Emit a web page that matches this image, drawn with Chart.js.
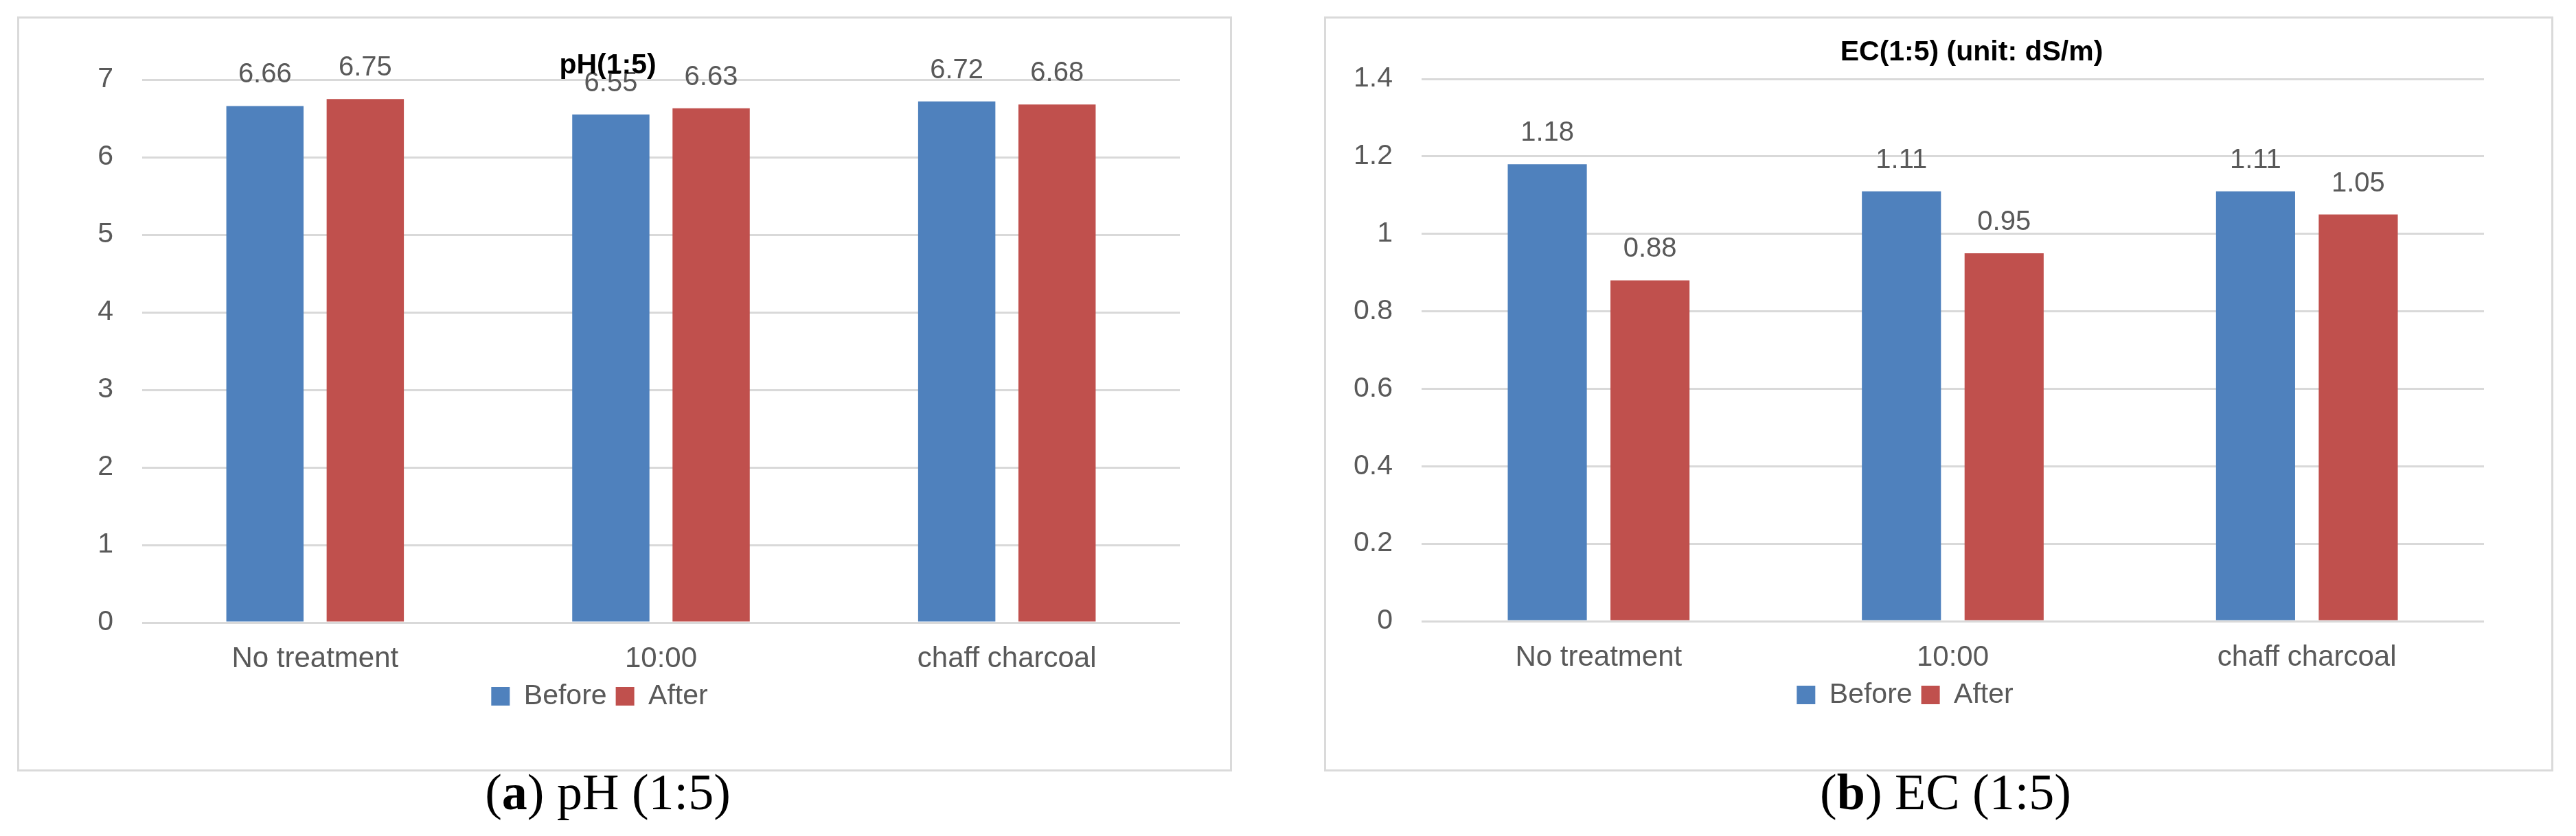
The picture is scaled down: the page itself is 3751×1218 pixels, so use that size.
<!DOCTYPE html>
<html>
<head>
<meta charset="utf-8">
<script src="https://cdn.jsdelivr.net/npm/chart.js@4.4.1/dist/chart.umd.min.js"></script>
<style>
  body { margin: 0; background: #fff; width: 3751px; height: 1218px; position: relative; overflow: hidden; }
  .panel { position: absolute; top: 24px; height: 1094px; border: 3px solid #dadada; background: #fff; }
  .panel canvas { position: absolute; left: 0; top: 0; }
  .caption { position: absolute; top: 1117px; font-family: 'Liberation Serif', 'Times New Roman', serif; font-size: 74px; line-height: 1; text-align: center; color: #000; }
</style>
</head>
<body>
<div class="panel" style="left:25px;width:1763px;"><canvas id="phChart" width="1763" height="1094"></canvas></div>
<div class="panel" style="left:1928px;width:1784px;"><canvas id="ecChart" width="1784" height="1094"></canvas></div>
<div class="caption" style="left:0px;width:1770px;">(<b>a</b>) pH (1:5)</div>
<div class="caption" style="left:1933px;width:1800px;">(<b>b</b>) EC (1:5)</div>
<script>
// data
const categories = ['No treatment', '10:00', 'chaff charcoal'];
const seriesNames = ['Before', 'After'];
const phBefore = [6.66, 6.55, 6.72];
const phAfter = [6.75, 6.63, 6.68];
const ecBefore = [1.18, 1.11, 1.11];
const ecAfter = [0.88, 0.95, 1.05];
const phAxis = { max: 7, step: 1 };
const ecAxis = { max: 1.4, step: 0.2 };

const BLUE = '#4f81bd';
const RED = '#c0504d';
const TEXT = '#595959';
const GRID = '#d9d9d9';

Chart.defaults.font.family = "'Liberation Sans', Arial, sans-serif";
Chart.defaults.color = TEXT;

// numbers above each bar
const valueLabels = {
    id: 'valueLabels',
    afterDatasetsDraw(chart, args, opts) {
        const ctx = chart.ctx;
        ctx.save();
        ctx.font = opts.font;
        ctx.fillStyle = opts.color;
        ctx.textAlign = 'center';
        ctx.textBaseline = 'alphabetic';
        chart.data.datasets.forEach((ds, i) => {
            chart.getDatasetMeta(i).data.forEach((bar, j) => {
                ctx.fillText(ds.data[j].toFixed(2), bar.x, bar.y - opts.offset);
            });
        });
        ctx.restore();
    }
};

// chart title placed freely (the pH one sits inside the plot area)
const floatTitle = {
    id: 'floatTitle',
    afterDraw(chart, args, opts) {
        const ctx = chart.ctx;
        ctx.save();
        ctx.font = opts.font;
        ctx.fillStyle = opts.color;
        ctx.textAlign = 'center';
        ctx.textBaseline = 'middle';
        ctx.fillText(opts.text, opts.x, opts.y);
        ctx.restore();
    }
};

function makeChart(id, title, before, after, axis, cfg) {
    const canvas = document.getElementById(id);
    return new Chart(canvas, {
        type: 'bar',
        data: {
            labels: categories,
            datasets: [
                { label: seriesNames[0], data: before, backgroundColor: BLUE, borderWidth: 0 },
                { label: seriesNames[1], data: after, backgroundColor: RED, borderWidth: 0 }
            ]
        },
        plugins: [valueLabels, floatTitle],
        options: {
            responsive: false,
            animation: false,
            devicePixelRatio: 1,
            datasets: { bar: { categoryPercentage: 0.58, barPercentage: 0.77 } },
            layout: { padding: cfg.padding },
            scales: {
                x: {
                    grid: { display: false, drawTicks: false },
                    border: { display: false },
                    ticks: { padding: 32, font: { size: 42, lineHeight: 1 }, color: TEXT },
                    afterFit: (s) => { s.height = cfg.xHeight; }
                },
                y: {
                    min: 0,
                    max: axis.max,
                    grid: { color: GRID, lineWidth: 3, drawTicks: false },
                    border: { display: false },
                    ticks: {
                        stepSize: axis.step,
                        padding: 42,
                        font: { size: 41 },
                        color: TEXT,
                        callback: (v) => String(+v.toFixed(2))
                    },
                    afterFit: (s) => { s.width = cfg.yWidth; }
                }
            },
            plugins: {
                legend: {
                    position: 'bottom',
                    labels: {
                        boxWidth: 27,
                        boxHeight: 27,
                        padding: 13,
                        font: { size: 41 },
                        color: TEXT
                    }
                },
                title: { display: false },
                tooltip: { enabled: false },
                valueLabels: { font: "40px 'Liberation Sans', Arial, sans-serif", color: TEXT, offset: 34 },
                floatTitle: { text: title, font: "bold " + cfg.titleSize + "px 'Liberation Sans', Arial, sans-serif", color: '#000', x: cfg.titleX, y: cfg.titleY }
            }
        }
    });
}

makeChart('phChart', 'pH(1:5)', phBefore, phAfter, phAxis, {
    padding: { left: 0, right: 73, top: 89, bottom: 76 },
    yWidth: 179,
    xHeight: 74,
    titleSize: 41,
    titleX: 857,
    titleY: 69
});

makeChart('ecChart', 'EC(1:5) (unit: dS/m)', ecBefore, ecAfter, ecAxis, {
    padding: { left: 0, right: 98, top: 88, bottom: 78 },
    yWidth: 139,
    xHeight: 74,
    titleSize: 41,
    titleX: 940,
    titleY: 50
});
</script>
</body>
</html>
